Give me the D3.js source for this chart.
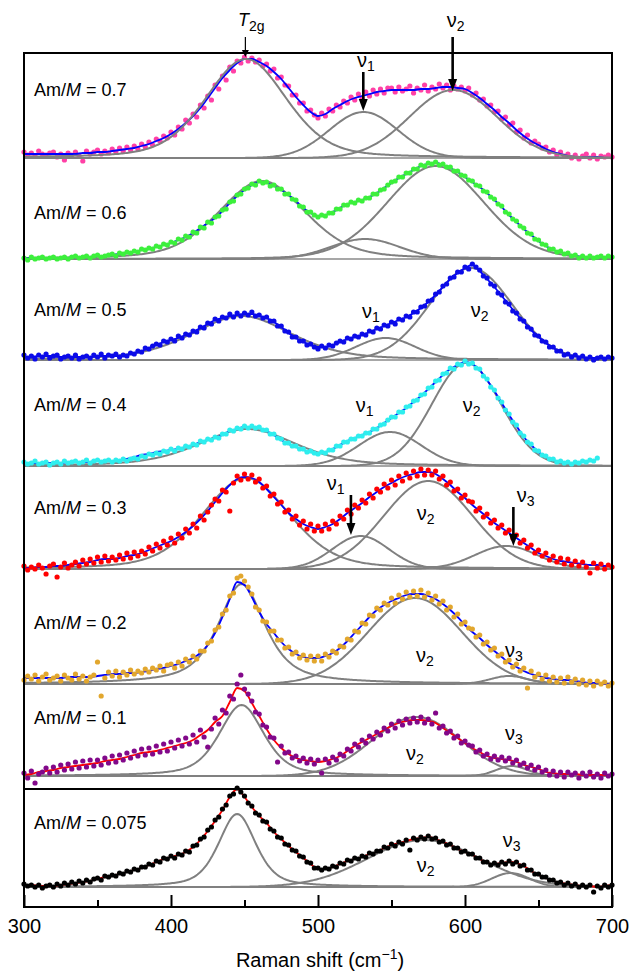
<!DOCTYPE html>
<html>
<head>
<meta charset="utf-8">
<script src="https://cdn.jsdelivr.net/npm/d3@7"></script>
<style>
body { margin: 0; background: #fff; }
text { font-family: "Liberation Sans", Arial, Helvetica, sans-serif; fill: #000; }
</style>
</head>
<body>
<div id="chart"></div>
<script>
// Am/M ratio of each spectrum, top to bottom
const ratios = ["0.7", "0.6", "0.5", "0.4", "0.3", "0.2", "0.1", "0.075"];

// measured Raman intensity (a.u.), 300 -> 700 cm-1 every 2.5 cm-1
const shiftStart = 300, shiftStep = 2.5;
const pts07 = [
  6,3,5,2,7,4,3,5,6,1,4,-2,5,3,6,2,-3,7,4,6,
  8,4,7,5,9,6,10,7,11,8,12,9,14,11,16,13,19,17,22,20,
  26,23,31,29,38,35,44,41,53,50,62,58,73,69,82,78,91,87,97,95,
  101,97,100,96,98,92,94,87,89,80,81,73,72,63,63,55,55,47,48,43,
  40,45,42,49,47,53,51,57,55,61,58,64,60,66,62,68,64,69,65,70,
  70,66,71,67,69,72,65,70,68,73,67,71,69,74,70,73,68,72,69,71,
  67,70,63,65,58,59,52,53,46,47,39,41,33,35,26,28,20,23,15,17,
  14,10,11,6,8,3,6,2,4,0,3,-1,2,4,0,3,-1,2,1,3,
  1];
const pts06 = [
  1,-1,2,0,1,2,0,1,2,0,1,2,0,2,3,1,2,3,1,3,
  4,2,3,4,5,3,6,5,7,6,8,7,10,9,11,10,13,12,15,14,
  17,16,20,19,23,22,27,26,32,31,37,36,42,43,49,50,57,58,64,65,
  70,71,75,74,78,76,77,73,74,70,70,65,65,60,59,53,52,47,47,44,
  42,44,43,46,46,50,50,54,54,57,56,59,58,61,61,65,65,69,70,74,
  77,78,82,82,86,86,90,90,94,93,96,95,97,94,95,92,92,88,88,84,
  83,79,78,74,73,68,67,62,60,55,53,47,45,40,38,33,31,26,25,20,
  19,15,14,10,10,7,8,5,6,3,4,1,3,1,3,1,2,3,1,3,
  2];
const pts05 = [
  5,2,4,1,5,3,6,2,4,5,1,3,4,2,5,1,3,4,2,5,
  3,6,2,5,4,6,3,5,4,7,6,9,8,12,11,14,16,15,19,18,
  21,19,24,22,26,25,29,28,33,32,37,36,41,39,43,42,46,43,47,44,
  47,45,48,44,45,42,43,39,39,34,34,29,28,23,23,19,19,15,16,13,
  11,14,12,15,14,17,19,18,22,21,24,23,26,25,29,28,32,31,35,34,
  38,36,41,40,44,43,48,48,53,54,59,60,66,68,74,76,82,83,88,88,
  93,91,96,93,90,84,82,76,74,67,65,58,56,49,47,41,39,33,31,25,
  24,19,18,13,13,9,9,5,6,3,5,2,4,1,3,0,2,3,1,3,
  2];
const pts04 = [
  4,2,3,5,2,3,4,1,3,4,2,5,3,4,5,3,4,6,3,5,
  6,4,5,6,4,6,5,7,5,7,8,7,10,9,12,11,13,12,15,14,
  17,15,18,17,20,19,22,21,25,24,27,26,29,28,32,32,36,35,38,37,
  40,38,40,38,39,36,36,32,32,28,27,23,23,20,20,17,17,14,15,13,
  12,14,13,16,16,20,20,24,24,27,27,30,30,33,33,37,37,41,42,46,
  49,49,54,54,59,60,65,66,71,72,78,79,85,86,92,93,98,97,102,101,
  105,102,103,98,97,90,87,79,76,68,64,56,52,44,41,33,30,24,22,16,
  15,11,10,7,7,4,5,3,4,2,4,3,5,4,6,5,8,null,null,null,
  null];
const pts03 = [
  3,-1,2,0,4,1,-5,3,5,-8,2,6,1,4,7,3,9,5,10,6,
  12,7,13,8,12,9,14,10,16,11,17,13,18,15,22,18,25,21,28,24,
  31,26,35,31,40,36,45,41,53,49,57,64,70,68,79,77,58,86,93,89,
  95,90,94,87,90,81,83,73,75,65,67,57,59,50,53,44,48,40,45,38,
  43,38,45,40,48,45,53,50,59,55,64,61,69,66,75,71,80,77,85,81,
  89,84,93,88,96,91,98,93,100,94,99,94,98,90,93,84,87,78,80,71,
  74,68,67,58,61,52,55,46,49,41,44,36,39,31,34,26,29,21,24,16,
  19,13,16,9,13,7,11,5,10,4,8,3,7,2,-4,6,1,5,0,4,
  2];
const pts02 = [
  4,8,5,9,3,7,10,4,6,8,3,9,6,4,10,5,8,3,7,9,
  22,-12,6,12,8,13,7,12,9,14,10,13,11,15,12,16,14,18,13,19,
  20,16,22,18,25,22,28,25,33,33,41,43,54,57,70,74,88,91,106,108,
  103,97,90,77,74,63,62,53,53,44,44,36,37,30,32,26,29,24,28,23,
  28,23,30,27,33,31,38,37,45,44,53,52,61,60,69,68,76,74,81,79,
  86,81,89,85,92,87,93,88,94,87,91,84,88,80,83,74,77,67,70,60,
  62,56,55,47,49,40,42,34,36,28,30,22,24,17,20,13,16,-4,13,7,
  10,5,9,3,7,2,6,1,7,2,5,0,4,-1,3,-2,3,0,2,-2,
  1];
const pts01 = [
  3,-2,5,-7,2,4,8,3,9,4,11,6,12,7,14,8,15,9,16,10,
  16,11,18,13,20,14,21,16,23,18,25,20,27,21,28,22,30,24,32,25,
  34,28,36,30,38,32,41,34,46,39,29,47,58,52,66,63,80,77,92,101,
  87,82,75,64,62,51,49,39,38,14,30,23,24,18,20,15,18,13,17,12,
  16,3,17,13,19,16,22,20,27,25,32,29,36,33,40,37,44,41,48,45,
  52,48,55,51,57,53,58,54,59,53,57,52,63,48,50,43,45,38,40,33,
  35,31,30,24,26,20,22,17,20,16,19,15,18,13,16,11,13,8,11,6,
  9,4,6,1,5,0,4,-1,4,1,3,-2,3,0,4,-1,2,-2,3,0,
  2];
const pts0075 = [
  3,1,2,0,2,-1,1,2,0,3,1,4,2,5,3,6,4,7,5,8,
  9,7,11,10,12,11,14,13,16,15,18,17,20,20,23,22,26,25,29,28,
  31,29,33,32,36,35,41,42,48,50,57,60,67,70,78,82,91,93,99,95,
  91,84,81,74,72,66,65,58,56,50,49,43,42,37,36,31,30,25,24,19,
  19,17,19,18,21,20,24,23,27,26,29,28,31,30,34,33,36,36,40,39,
  43,41,45,43,47,37,49,47,50,48,51,48,49,45,46,42,43,39,39,35,
  36,33,33,29,29,25,25,22,24,22,25,23,26,23,25,21,22,17,17,13,
  13,10,10,7,7,4,5,2,4,1,3,0,2,0,2,-5,1,-1,2,0,
  2];

// total fit (a.u.), 300 -> 700 cm-1 every 5 cm-1
const fitStep = 5;
const fit07 = [4,4,4,4,4,4,4,4,5,5, 6,6,7,8,9,10,12,14,17,20, 24,29,35,42,50,60,70,80,88,95,
  99,99,96,92,86,79,70,61,53,46, 42,44,49,53,57,60,62,64,66,67, 68,68,68,68,69,69,70,71,71,70,
  69,65,60,54,48,41,35,28,22,17, 13,9,6,4,2,1,1,1,1,0, 0];
const fit06 = [0,1,1,1,1,1,1,2,2,2, 3,3,4,5,6,7,9,10,12,14, 16,19,22,26,31,36,41,48,56,63,
  69,74,77,76,73,69,64,58,51,46, 43,44,47,51,55,57,59,62,66,71, 76,81,85,89,93,95,96,94,91,87,
  82,77,72,66,59,52,44,37,30,24, 18,13,9,7,5,3,2,2,2,2, 2];
const fit05 = [3,3,4,4,4,3,3,3,3,3, 4,4,4,4,5,7,9,12,15,18, 20,22,25,28,32,36,40,42,44,45,
  46,46,44,42,38,33,27,22,18,15, 13,13,15,18,21,23,25,28,31,34, 37,40,43,47,52,58,65,73,81,87,
  92,95,89,81,73,64,55,46,38,30, 23,17,12,8,5,4,3,2,2,2, 2];
const fit04 = [3,3,3,3,3,3,4,4,4,4, 5,5,5,6,7,9,11,12,14,15, 16,17,19,21,24,26,28,31,35,37,
  39,39,38,35,31,26,22,19,16,14, 13,14,17,21,25,28,31,34,38,43, 48,53,58,64,70,77,84,91,97,101,
  104,102,96,86,75,63,51,40,29,21, 14,9,6,4,3,3,4,5,7,null, null];
const fit03 = [1,1,2,2,3,3,4,5,6,7, 9,10,10,11,13,14,16,19,22,25, 28,32,37,43,50,58,67,76,84,90,
  92,91,87,80,72,64,56,50,45,42, 40,42,45,50,56,61,66,72,77,82, 86,90,93,95,97,97,95,90,84,77,
  71,64,58,52,46,41,36,31,26,21, 16,13,10,8,7,6,5,4,4,3, 3];
const fit02 = [6,6,6,6,6,6,7,7,7,7, 8,9,10,10,11,11,12,13,15,16, 18,20,23,26,31,39,51,67,85,102,
  99,87,72,60,51,42,35,30,27,26, 26,28,31,36,43,51,59,67,74,79, 83,86,89,90,90,88,85,80,74,67,
  59,52,46,39,33,27,21,17,13,10, 8,6,5,4,4,3,2,1,1,0, 0];
const fit01 = [1,2,4,5,6,8,9,10,11,12, 13,15,16,17,19,21,23,24,25,27, 29,31,33,36,41,46,54,60,74,88,
  85,73,60,47,36,28,22,18,16,15, 14,15,17,20,25,30,34,38,42,46, 50,53,55,56,56,55,53,48,43,38,
  33,28,24,20,18,17,16,14,11,9, 7,4,3,2,2,2,1,1,1,1, 1];
const fit0075 = [2,2,1,1,1,2,3,4,5,6, 8,10,11,13,15,17,19,22,25,28, 30,32,35,40,47,56,66,77,90,98,
  90,80,71,64,55,48,41,35,29,23, 18,18,20,23,26,28,30,33,35,39, 42,44,46,48,49,50,48,45,42,38,
  35,32,28,24,23,24,25,24,21,16, 12,9,6,4,3,2,1,1,0,1, 2];

// fitted bands: [name, centre cm-1, FWHM cm-1, height a.u., Lorentzian fraction]
const bands07 = [["T2g",451,65,99,0.3], ["v1",531,55,46,0], ["v2",592,70,68,0]];
const bands06 = [["T2g",462,70,78,0.3], ["v1",532,55,20,0], ["v2",580,78,93,0.1]];
const bands05 = [["T2g",448,80,44,0.4], ["v1",546,47,22,0], ["v2",604,66,92,0]];
const bands04 = [["T2g",452,78,37,0.4], ["v1",549,50,34,0], ["v2",601,55,103,0]];
const bands03 = [["T2g",451,70,91,0.3], ["v1",529,45,33,0], ["v2",575,71,88,0], ["v3",628,50,23,0]];
const bands02 = [["T2g",448,38,100,0.7], ["v2",566,75,86,0], ["v3",630,30,8,0]];
const bands01 = [["T2g",448,36,71,0.5], ["v2",567,71,59,0], ["v3",632,25,10,0]];
const bands0075 = [["T2g",445,30,73,0.5], ["v2",572,90,47,0], ["v3",631,30,14,0]];

// band labels: panel, symbol, subscript, text at (cm-1, a.u.), optional arrow [cm-1, from, to]
const notes = [
  [0, "T", "2g", 445.6, 132, [450.6, 121, 101]],
  [0, "ν", "2", 587.5, 131, [591.6, 121, 67]],
  [0, "ν", "1", 526.5, 91, [530.8, 86, 47]],
  [2, "ν", "1", 530, 42, null],
  [2, "ν", "2", 603.9, 43, null],
  [3, "ν", "1", 525.6, 54, null],
  [3, "ν", "2", 598.4, 54, null],
  [4, "ν", "1", 505.9, 79, [522.4, 74, 34]],
  [4, "ν", "2", 567.1, 49, null],
  [4, "ν", "3", 635.2, 67, [632.9, 62, 23]],
  [5, "ν", "2", 566.7, 22, null],
  [5, "ν", "3", 627.2, 27, null],
  [6, "ν", "2", 559.9, 16, null],
  [6, "ν", "3", 627.2, 36, null],
  [7, "ν", "2", 567.1, 15, null],
  [7, "ν", "3", 625.6, 40, null]
];

const majorTicks = [300, 400, 500, 600, 700];
const minorTicks = [350, 450, 550, 650];

// ---- styles / layout ----
const dotColors = ["#ff40a6", "#3cf03c", "#0b0be8", "#2eeeee", "#ff0000", "#e2a72e", "#82088a", "#000000"];
const fitColors = ["#0000ff", "#0000ff", "#0000ff", "#0000ff", "#0000ff", "#0000ff", "#ff0000", "#ff0000"];
const bandColor = "#808080";
const panelBase = [158, 259, 360, 466, 569, 684, 776, 887];
const labelRise = [62, 40, 44, 55, 55, 55, 52, 58];
const frame = { left: 24, right: 612, top: 53, bottom: 907, split: 789 };

const allPts = [pts07, pts06, pts05, pts04, pts03, pts02, pts01, pts0075];
const allFits = [fit07, fit06, fit05, fit04, fit03, fit02, fit01, fit0075];
const allBands = [bands07, bands06, bands05, bands04, bands03, bands02, bands01, bands0075];

const width = 631, height = 971;
const svg = d3.select("#chart").append("svg")
    .attr("width", width)
    .attr("height", height)
    .attr("viewBox", `0 0 ${width} ${height}`);

const x = d3.scaleLinear().domain([300, 700]).range([frame.left, frame.right]);

// pseudo-Voigt profile of a fitted band
function bandValue(v, b) {
  const d = (v - b[1]) / b[2];
  return b[3] * ((1 - b[4]) * Math.exp(-4 * Math.LN2 * d * d) + b[4] / (1 + 4 * d * d));
}

const bandGrid = d3.range(300, 700.5, 1);

const plot = svg.append("g");

ratios.forEach((ratio, i) => {
  const base = panelBase[i];
  const y = d3.scaleLinear().domain([0, 100]).range([base, base - 100]);
  const g = plot.append("g").attr("class", "panel");

  const dots = allPts[i].map((h, k) => ({ v: shiftStart + k * shiftStep, h: h })).filter(d => d.h !== null);
  const fit = allFits[i].map((h, k) => ({ v: 300 + k * fitStep, h: h }));

  const fitLine = d3.line()
      .defined(d => d.h !== null)
      .x(d => x(d.v)).y(d => y(d.h))
      .curve(d3.curveMonotoneX);

  const bandLine = d3.line().x(d => x(d[0])).y(d => y(d[1]));

  function drawBands() {
    g.append("line")
        .attr("x1", x(300)).attr("x2", x(700))
        .attr("y1", y(0)).attr("y2", y(0))
        .attr("stroke", "#8a8a8a").attr("stroke-width", 1.5);
    allBands[i].forEach(b => {
      g.append("path")
          .datum(bandGrid.map(v => [v, bandValue(v, b)]))
          .attr("d", bandLine)
          .attr("fill", "none")
          .attr("stroke", bandColor)
          .attr("stroke-width", 2);
    });
  }
  function drawFit() {
    g.append("path")
        .datum(fit)
        .attr("d", fitLine)
        .attr("fill", "none")
        .attr("stroke", fitColors[i])
        .attr("stroke-width", 1.8);
  }
  function drawDots() {
    g.append("g").selectAll("circle")
      .data(dots)
      .join("circle")
        .attr("cx", d => x(d.v))
        .attr("cy", d => y(d.h))
        .attr("r", 2.6)
        .attr("fill", dotColors[i]);
  }

  if (i === 0) { drawDots(); drawFit(); drawBands(); }
  else { drawBands(); drawFit(); drawDots(); }

  // Am/M label
  const lab = g.append("text")
      .attr("x", 34)
      .attr("y", y(labelRise[i]))
      .style("font-size", "18px");
  lab.append("tspan").text("Am/");
  lab.append("tspan").style("font-style", "italic").text("M");
  lab.append("tspan").text(" = " + ratio);

  // band annotations
  notes.filter(n => n[0] === i).forEach(n => {
    const t = g.append("text")
        .attr("x", x(n[3]))
        .attr("y", y(n[4]))
        .style("font-size", n[1] === "T" ? "18px" : "20px");
    t.append("tspan").style("font-style", n[1] === "T" ? "italic" : "normal").text(n[1]);
    t.append("tspan").attr("dy", n[1] === "T" ? 5 : 4).style("font-size", "14px").text(n[2]);
    if (n[5]) {
      const thin = n[1] === "T";
      const ax = x(n[5][0]), y1 = y(n[5][1]), y2 = y(n[5][2]);
      const headL = thin ? 7 : 12, headW = thin ? 3.5 : 4.5;
      g.append("line")
          .attr("x1", ax).attr("x2", ax)
          .attr("y1", y1).attr("y2", y2 - headL + 1)
          .attr("stroke", "#000").attr("stroke-width", thin ? 1.2 : 2.6);
      g.append("path")
          .attr("d", `M${ax - headW},${y2 - headL}L${ax + headW},${y2 - headL}L${ax},${y2}Z`)
          .attr("fill", "#000");
    }
  });
});

// frame
svg.append("rect")
    .attr("x", frame.left).attr("y", frame.top)
    .attr("width", frame.right - frame.left)
    .attr("height", frame.bottom - frame.top)
    .attr("fill", "none")
    .attr("stroke", "#000")
    .attr("stroke-width", 2);
svg.append("line")
    .attr("x1", frame.left).attr("x2", frame.right)
    .attr("y1", frame.split).attr("y2", frame.split)
    .attr("stroke", "#000").attr("stroke-width", 2);

// x axis with inward ticks
const axisMajor = svg.append("g")
    .attr("transform", `translate(0,${frame.bottom})`)
    .call(d3.axisBottom(x).tickValues(majorTicks).tickSize(-12).tickPadding(12).tickFormat(d3.format("d")));
axisMajor.select(".domain").remove();
axisMajor.selectAll("line").attr("stroke", "#000").attr("stroke-width", 2);
axisMajor.selectAll("text").style("font-size", "20px").attr("font-family", null);

const axisMinor = svg.append("g")
    .attr("transform", `translate(0,${frame.bottom})`)
    .call(d3.axisBottom(x).tickValues(minorTicks).tickSize(-7).tickFormat(""));
axisMinor.select(".domain").remove();
axisMinor.selectAll("line").attr("stroke", "#000").attr("stroke-width", 2);

const title = svg.append("text")
    .attr("x", 320)
    .attr("y", 967)
    .attr("text-anchor", "middle")
    .style("font-size", "20px");
title.append("tspan").text("Raman shift (cm");
title.append("tspan").attr("dy", -8).style("font-size", "14px").text("−1");
title.append("tspan").attr("dy", 8).text(")");
</script>
</body>
</html>
